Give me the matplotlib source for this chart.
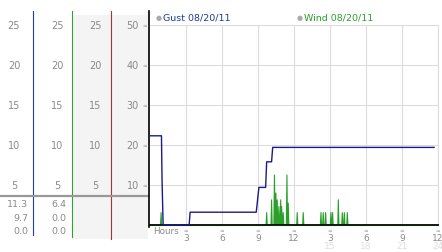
import matplotlib.pyplot as plt
from matplotlib.transforms import blended_transform_factory as blend

# chart data
tick_hours = [3, 6, 9, 12, 15, 18, 21, 24]
tick_labels = ['3', '6', '9', '12', '3', '6', '9', '12']
pm_hours = [15, 18, 21, 24]
pm_labels = ['15', '18', '21', '24']
right_scale = [10, 20, 30, 40, 50]
left_scale = [5, 10, 15, 20, 25]
gust_stats = ['11.3', '9.7', '0.0']
wind_stats = ['6.4', '0.0', '0.0']

gust_t = [0, 0.94, 0.99, 1.08, 3.25, 3.33, 8.85, 9.07, 9.63, 9.72, 10.13, 10.22, 23.69]
gust_v = [22.3, 22.3, 11.0, 0, 0, 3.2, 3.2, 9.4, 9.4, 15.8, 15.8, 19.4, 19.4]

wind_t = [0.91, 9.72, 10.13, 10.37, 10.49, 10.6, 10.74, 10.89, 10.97, 11.1, 11.41, 11.52,
          12.27, 12.77, 14.25, 14.44, 14.64, 15.08, 15.22, 15.7, 16.03, 16.2, 16.45]
wind_v = [3.1, 3.1, 6.3, 12.5, 8.0, 6.3, 4.6, 6.3, 4.6, 3.1, 12.5, 5.5,
          3.1, 3.1, 3.1, 3.1, 3.1, 3.1, 3.1, 6.3, 3.1, 3.1, 3.1]

W, H = 442, 253
GRAY = '#8a8a8a'
GUST = '#1a1a8a'
WIND = '#2aa02a'

fig = plt.figure(figsize=(W / 100, H / 100), dpi=100)

# pixel overlay for the left panel
bg = fig.add_axes([0, 0, 1, 1], zorder=0)
bg.set_xlim(0, W)
bg.set_ylim(H, 0)
bg.axis('off')

ymin, ymax = -0.6, 53.5
ax = fig.add_axes([149 / W, 1 - (226 + 4 * -ymin) / H, 290 / W, 4 * (ymax - ymin) / H], zorder=1)
ax.set_facecolor('none')
ax.set_xlim(-0.1, 24.1)
ax.set_ylim(ymin, ymax)
for s in ['top', 'right', 'bottom']:
    ax.spines[s].set_visible(False)
ax.spines['left'].set_color('black')
ax.spines['left'].set_linewidth(1.2)
ax.set_xticks([])
ax.set_yticks([])

# grid
ax.vlines(tick_hours, 0, right_scale[-1], color='#dcdcdc', lw=0.8, zorder=1)
ax.hlines(right_scale, -0.1, 24.1, color='#dcdcdc', lw=0.8, zorder=1)

# wind spikes
wx, wy = [0], [0]
for t, v in zip(wind_t, wind_v):
    wx += [t - 0.05, t, t + 0.05]
    wy += [0, v, 0]
wx.append(24.1)
wy.append(0)
ax.plot(wx, wy, color=WIND, lw=0.8, zorder=2)
ax.axhline(0, color='black', lw=1.2, zorder=2.2)
ax.axhline(-0.4, color=WIND, lw=0.8, zorder=2.1)

# gust
ax.plot(gust_t, gust_v, color=GUST, lw=1.0, zorder=3)

# x axis labels (x from the chart scale, y in pixels)
trx = blend(ax.transData, bg.transData)
for h, lab in zip(tick_hours, tick_labels):
    bg.text(h, 231, '≈', transform=trx, ha='center', va='center', fontsize=4, color='#999999')
    bg.text(h, 238.5, lab, transform=trx, ha='center', va='center', fontsize=6.5, color=GRAY)
for h, lab in zip(pm_hours, pm_labels):
    bg.text(h, 246.5, lab, transform=trx, ha='center', va='center', fontsize=6.5, color='#dddddd')
bg.text(153, 231.5, 'Hours', ha='left', va='center', fontsize=6.3, color=GRAY)

# legend
ax.text(0.75, 52.0, '●', ha='center', va='center', fontsize=5, color='#aaaaaa')
ax.text(1.1, 52.0, 'Gust 08/20/11', ha='left', va='center', fontsize=6.8, color='#1f3a9a')
ax.text(12.5, 52.0, '●', ha='center', va='center', fontsize=5, color='#aaaaaa')
ax.text(12.85, 52.0, 'Wind 08/20/11', ha='left', va='center', fontsize=6.8, color=WIND)

# left panel
bg.fill_between([72, 148], 16, 240, color='#f4f4f4', lw=0)
bg.plot([33, 33], [12, 236], color='#1f3f9f', lw=0.8)
bg.plot([72, 72], [12, 238], color='#33a033', lw=0.8)
bg.plot([111, 111], [12, 240], color='#b03030', lw=0.8)
bg.plot([0, 148], [197, 197], color='#999999', lw=1.6)

tr = blend(bg.transData, ax.transData)
for v in left_scale:
    for cx in [14, 57, 95]:
        bg.text(cx, v * 2, str(v), transform=tr, ha='center', va='center', fontsize=7, color=GRAY)
for v in right_scale:
    bg.text(139, v, str(v), transform=tr, ha='right', va='center', fontsize=7, color=GRAY)
    bg.text(145, v, '≈', transform=tr, ha='center', va='center', fontsize=4, color='#999999')

for i, (g, w) in enumerate(zip(gust_stats, wind_stats)):
    y = 205 + i * 13.5
    bg.text(28, y, g, ha='right', va='center', fontsize=6.8, color=GRAY)
    bg.text(66, y, w, ha='right', va='center', fontsize=6.8, color=GRAY)

fig.savefig('out.png', dpi=100)
